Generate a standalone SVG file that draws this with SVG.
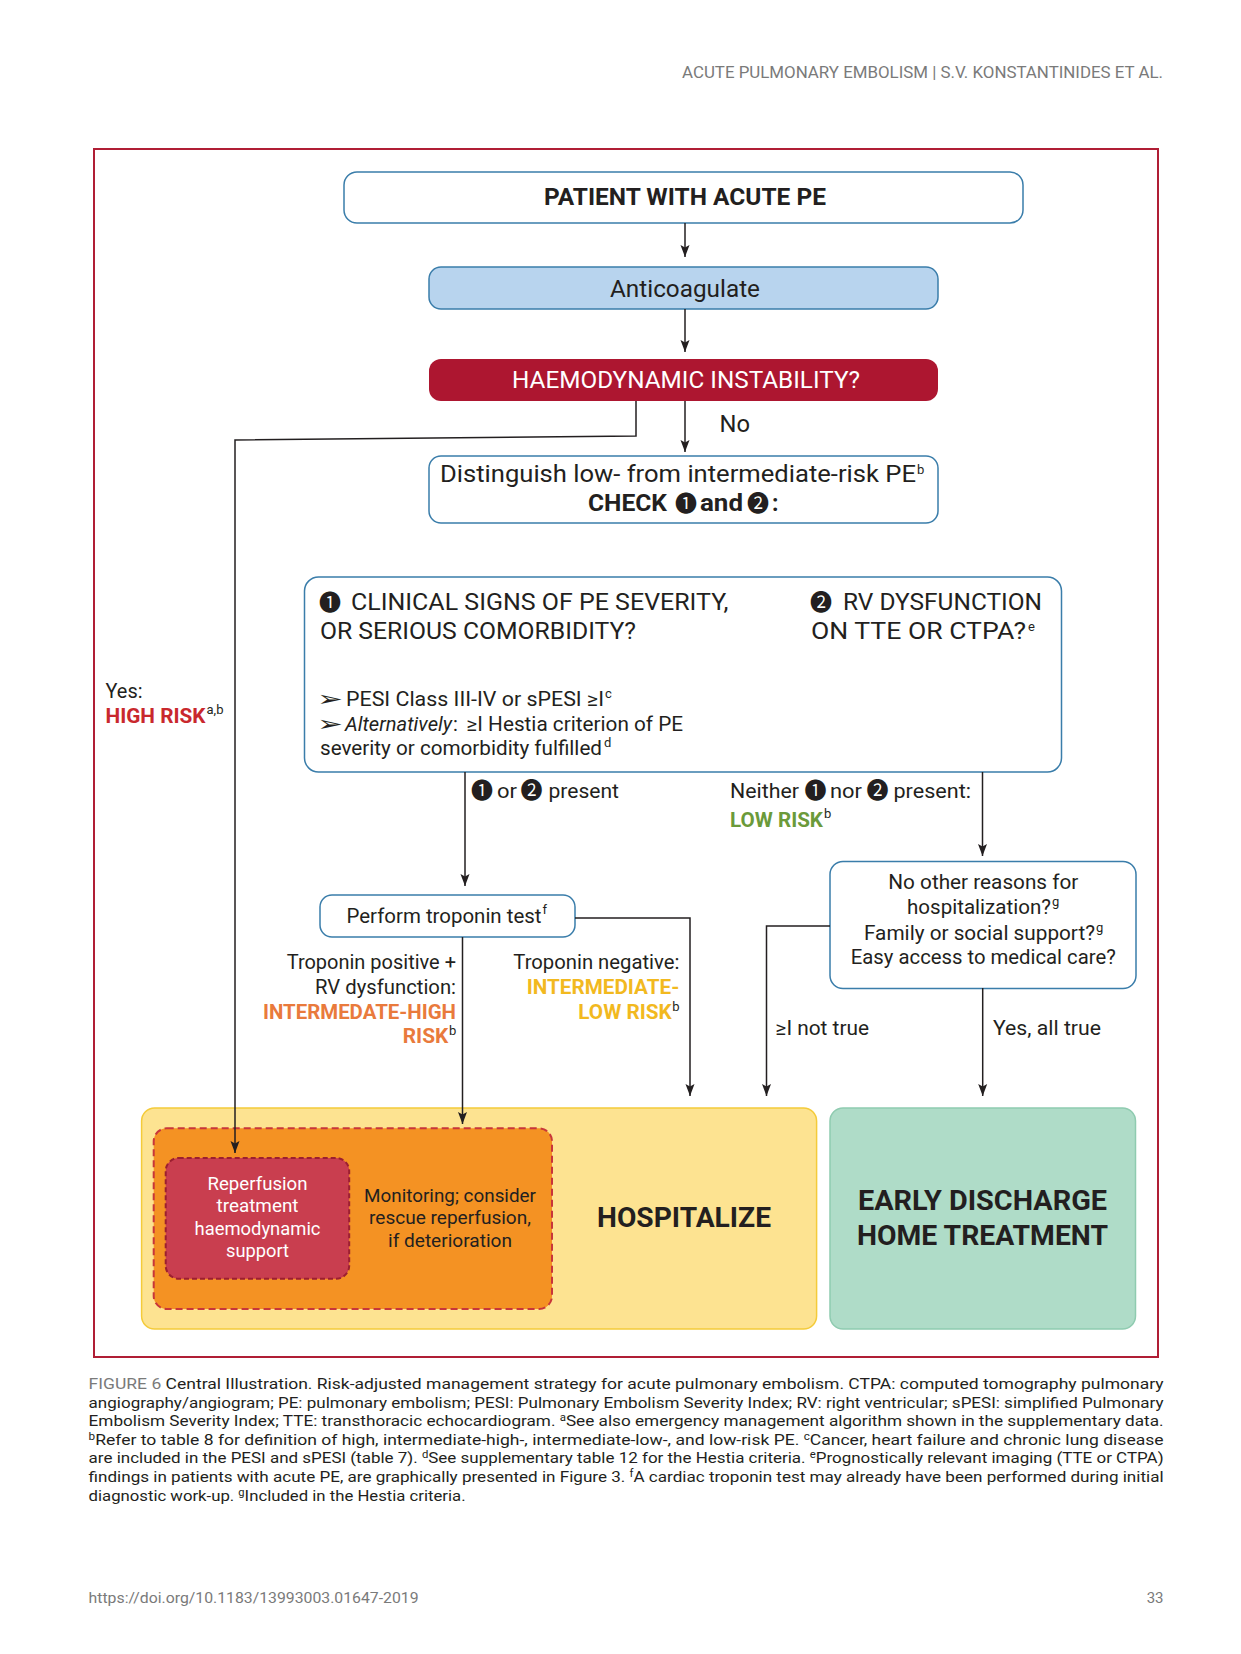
<svg xmlns="http://www.w3.org/2000/svg" width="1241" height="1654" viewBox="0 0 1241 1654">
<defs>
<style>
text{font-family:Roboto,"Liberation Sans",sans-serif;fill:#231F20}
.t20{font-size:20px}
.t23{font-size:23px}
.b{font-weight:bold}
.c{text-anchor:middle}
.e{text-anchor:end}
.dg{font-family:"Noto Sans CJK JP","DejaVu Sans",sans-serif;font-weight:normal;font-size:22px}
.ar{font-family:"DejaVu Sans",sans-serif;font-size:21px}
.sup{font-size:13px}
.cap{font-size:15px}
.capsup{font-size:10px}
.box{fill:#fff;stroke:#3A7DAA;stroke-width:1.5}
.con{fill:none;stroke:#231F20;stroke-width:1.5}
.gray{fill:#7A7A7A}
</style>
<marker id="ah" markerUnits="userSpaceOnUse" markerWidth="13" markerHeight="10" refX="12" refY="5" orient="auto" viewBox="0 0 13 10">
<path d="M0,0.5 L12,5 L0,9.5 L2.5,5 z" fill="#231F20"/>
</marker>
</defs>
<rect width="1241" height="1654" fill="#fff"/>

<text id="header" x="682" y="78" class="gray" font-size="16" textLength="481" lengthAdjust="spacingAndGlyphs">ACUTE PULMONARY EMBOLISM  |  S.V. KONSTANTINIDES ET AL.</text>

<rect id="frame" x="94" y="149" width="1064" height="1208" fill="none" stroke="#B01E35" stroke-width="2"/>

<g id="patient">
<rect class="box" x="344" y="172" width="679" height="51" rx="13"/>
<text class="t23 b c" x="685" y="205" textLength="282" lengthAdjust="spacingAndGlyphs">PATIENT WITH ACUTE PE</text>
</g>

<g id="anticoagulate">
<rect x="429" y="267" width="509" height="42" rx="12" fill="#B8D4EE" stroke="#3A7DAA" stroke-width="1.5"/>
<text class="t23 c" x="685" y="296.5" textLength="150" lengthAdjust="spacingAndGlyphs">Anticoagulate</text>
</g>

<g id="instability">
<rect x="429" y="359" width="509" height="42" rx="12" fill="#AD1630"/>
<text class="t23 c" x="686" y="388" style="fill:#fff" textLength="348" lengthAdjust="spacingAndGlyphs">HAEMODYNAMIC INSTABILITY?</text>
</g>

<text id="lbl-no" class="t23" x="719.5" y="432" textLength="30.5" lengthAdjust="spacingAndGlyphs">No</text>

<g id="distinguish">
<rect class="box" x="429" y="456" width="509" height="67" rx="12"/>
<text class="t23" x="440" y="481.5" textLength="476" lengthAdjust="spacingAndGlyphs">Distinguish low- from intermediate-risk PE</text>
<text class="sup" x="917" y="474">b</text>
<text class="t23 b" y="511"><tspan x="588" textLength="79" lengthAdjust="spacingAndGlyphs">CHECK</tspan><tspan class="dg" x="675">❶</tspan><tspan x="700" textLength="43" lengthAdjust="spacingAndGlyphs">and</tspan><tspan class="dg" x="747">❷</tspan><tspan x="772">:</tspan></text>
</g>

<g id="criteria">
<rect class="box" x="304.5" y="577" width="757" height="195" rx="14"/>
<text class="t23" y="610"><tspan class="dg" x="319">❶</tspan><tspan x="351" textLength="377.5" lengthAdjust="spacingAndGlyphs">CLINICAL SIGNS OF PE SEVERITY,</tspan></text>
<text class="t23" x="320" y="639" textLength="316" lengthAdjust="spacingAndGlyphs">OR SERIOUS COMORBIDITY?</text>
<text class="t23" y="610"><tspan class="dg" x="810">❷</tspan><tspan x="843" textLength="199" lengthAdjust="spacingAndGlyphs">RV DYSFUNCTION</tspan></text>
<text class="t23" x="811" y="639" textLength="215" lengthAdjust="spacingAndGlyphs">ON TTE OR CTPA?</text>
<text class="sup" x="1028" y="631">e</text>
<text class="t20" y="706"><tspan class="ar" x="317" textLength="26" lengthAdjust="spacingAndGlyphs">➢</tspan><tspan x="346" textLength="258" lengthAdjust="spacingAndGlyphs">PESI Class III-IV or sPESI ≥I</tspan></text>
<text class="sup" x="605" y="698">c</text>
<text class="t20" y="730.5"><tspan class="ar" x="317" textLength="26" lengthAdjust="spacingAndGlyphs">➢</tspan><tspan x="345" font-style="italic" textLength="107" lengthAdjust="spacingAndGlyphs">Alternatively</tspan><tspan x="453">:</tspan><tspan x="466.5" textLength="216.5" lengthAdjust="spacingAndGlyphs">≥I Hestia criterion of PE</tspan></text>
<text class="t20" x="320" y="755" textLength="282" lengthAdjust="spacingAndGlyphs">severity or comorbidity fulfilled</text>
<text class="sup" x="604" y="747">d</text>
</g>

<g id="lbl-high-risk">
<text class="t20" x="105.5" y="697.5" textLength="37" lengthAdjust="spacingAndGlyphs">Yes:</text>
<text class="t20 b" x="105.5" y="722.5" style="fill:#C9282D" textLength="100" lengthAdjust="spacingAndGlyphs">HIGH RISK</text>
<text class="sup" x="206.5" y="714">a,b</text>
</g>

<g id="lbl-present">
<text class="t20" y="798"><tspan class="dg" x="471">❶</tspan><tspan x="497" textLength="20" lengthAdjust="spacingAndGlyphs">or</tspan><tspan class="dg" x="520.5">❷</tspan><tspan x="548.5" textLength="70.5" lengthAdjust="spacingAndGlyphs">present</tspan></text>
</g>

<g id="lbl-neither">
<text class="t20" y="798"><tspan x="730" textLength="69" lengthAdjust="spacingAndGlyphs">Neither</tspan><tspan class="dg" x="804.5">❶</tspan><tspan x="830" textLength="32" lengthAdjust="spacingAndGlyphs">nor</tspan><tspan class="dg" x="866.5">❷</tspan><tspan x="893.5" textLength="77.5" lengthAdjust="spacingAndGlyphs">present:</tspan></text>
<text class="t20 b" x="730" y="826.5" style="fill:#6B9A3A" textLength="93" lengthAdjust="spacingAndGlyphs">LOW RISK</text>
<text class="sup" x="824" y="818">b</text>
</g>

<g id="troponin">
<rect class="box" x="320" y="895" width="255" height="42" rx="12"/>
<text class="t20" x="346.5" y="923" textLength="195" lengthAdjust="spacingAndGlyphs">Perform troponin test</text>
<text class="sup" x="542.5" y="914">f</text>
</g>

<g id="lbl-int-high">
<text class="t20 e" x="456" y="969.3" textLength="169.3" lengthAdjust="spacingAndGlyphs">Troponin positive +</text>
<text class="t20 e" x="456" y="994.3" textLength="141" lengthAdjust="spacingAndGlyphs">RV dysfunction:</text>
<text class="t20 b e" x="456" y="1019" style="fill:#E97A3C" textLength="193" lengthAdjust="spacingAndGlyphs">INTERMEDATE-HIGH</text>
<text class="t20 b e" x="448.3" y="1043.3" style="fill:#E97A3C" textLength="45.6" lengthAdjust="spacingAndGlyphs">RISK</text>
<text class="sup" x="449" y="1035">b</text>
</g>

<g id="lbl-int-low">
<text class="t20 e" x="679.3" y="969.3" textLength="166" lengthAdjust="spacingAndGlyphs">Troponin negative:</text>
<text class="t20 b e" x="679.3" y="994" style="fill:#F2B91F" textLength="152.6" lengthAdjust="spacingAndGlyphs">INTERMEDIATE-</text>
<text class="t20 b e" x="671.7" y="1019" style="fill:#F2B91F" textLength="93.4" lengthAdjust="spacingAndGlyphs">LOW RISK</text>
<text class="sup" x="672.3" y="1010.5">b</text>
</g>

<g id="discharge-check">
<rect class="box" x="830" y="861.5" width="306" height="127" rx="13"/>
<text class="t20 c" x="983.3" y="889.3" textLength="190" lengthAdjust="spacingAndGlyphs">No other reasons for</text>
<text class="t20" x="907" y="914.3" textLength="144" lengthAdjust="spacingAndGlyphs">hospitalization?</text>
<text class="sup" x="1052" y="906">g</text>
<text class="t20" x="864" y="940" textLength="231" lengthAdjust="spacingAndGlyphs">Family or social support?</text>
<text class="sup" x="1096" y="931.5">g</text>
<text class="t20 c" x="983.3" y="964" textLength="265" lengthAdjust="spacingAndGlyphs">Easy access to medical care?</text>
</g>

<text id="lbl-not-true" class="t20" x="775.5" y="1035" textLength="93.5" lengthAdjust="spacingAndGlyphs">≥I not true</text>
<text id="lbl-all-true" class="t20" x="993" y="1035" textLength="108" lengthAdjust="spacingAndGlyphs">Yes, all true</text>

<g id="hospitalize">
<rect x="141.6" y="1108" width="675" height="221" rx="13" fill="#FDE391" stroke="#F4CB3A" stroke-width="1.5"/>
<text class="b c" font-size="27" x="684" y="1227.3" textLength="174" lengthAdjust="spacingAndGlyphs">HOSPITALIZE</text>
</g>

<g id="monitoring">
<rect x="153.7" y="1128.3" width="398.3" height="180.7" rx="13" fill="#F49223" stroke="#C8363A" stroke-width="2" stroke-dasharray="7,4"/>
<text class="c" font-size="19" x="450" y="1201.7" textLength="172" lengthAdjust="spacingAndGlyphs">Monitoring; consider</text>
<text class="c" font-size="19" x="450" y="1224.3" textLength="162" lengthAdjust="spacingAndGlyphs">rescue reperfusion,</text>
<text class="c" font-size="19" x="450" y="1246.7" textLength="124" lengthAdjust="spacingAndGlyphs">if deterioration</text>
</g>

<g id="reperfusion">
<rect x="165.7" y="1158" width="183.5" height="120.7" rx="13" fill="#C93E4F" stroke="#9C1F30" stroke-width="2" stroke-dasharray="5,3"/>
<text class="c" font-size="19" x="257.5" y="1190" style="fill:#fff" textLength="100" lengthAdjust="spacingAndGlyphs">Reperfusion</text>
<text class="c" font-size="19" x="257.5" y="1211.7" style="fill:#fff" textLength="82" lengthAdjust="spacingAndGlyphs">treatment</text>
<text class="c" font-size="19" x="257.5" y="1235" style="fill:#fff" textLength="126" lengthAdjust="spacingAndGlyphs">haemodynamic</text>
<text class="c" font-size="19" x="257.5" y="1256.7" style="fill:#fff" textLength="63" lengthAdjust="spacingAndGlyphs">support</text>
</g>

<g id="early-discharge">
<rect x="830" y="1108" width="305.5" height="221" rx="13" fill="#AFDCC8" stroke="#8FCBB0" stroke-width="1.5"/>
<text class="b c" font-size="28" x="982.5" y="1210" textLength="249" lengthAdjust="spacingAndGlyphs">EARLY DISCHARGE</text>
<text class="b c" font-size="28" x="982.5" y="1245" textLength="251" lengthAdjust="spacingAndGlyphs">HOME TREATMENT</text>
</g>

<g id="connectors">
<path class="con" d="M685,223 V257" marker-end="url(#ah)"/>
<path class="con" d="M685,309 V352" marker-end="url(#ah)"/>
<path class="con" d="M685,401 V452" marker-end="url(#ah)"/>
<path class="con" d="M636,401 V436 L235,440 V1153" marker-end="url(#ah)"/>
<path class="con" d="M465,772 V886" marker-end="url(#ah)"/>
<path class="con" d="M575,918 H690 V1096" marker-end="url(#ah)"/>
<path class="con" d="M462.5,937 V1124" marker-end="url(#ah)"/>
<path class="con" d="M982.5,772 V856" marker-end="url(#ah)"/>
<path class="con" d="M830,926 H766.5 V1096" marker-end="url(#ah)"/>
<path class="con" d="M982.7,988 V1096" marker-end="url(#ah)"/>
</g>

<g id="caption">
<text class="cap" x="88.6" y="1389" textLength="1075" lengthAdjust="spacingAndGlyphs"><tspan class="gray">FIGURE 6</tspan> Central Illustration. Risk-adjusted management strategy for acute pulmonary embolism. CTPA: computed tomography pulmonary</text>
<text class="cap" x="88.6" y="1407.5" textLength="1075" lengthAdjust="spacingAndGlyphs">angiography/angiogram; PE: pulmonary embolism; PESI: Pulmonary Embolism Severity Index; RV: right ventricular; sPESI: simplified Pulmonary</text>
<text class="cap" x="88.6" y="1426" textLength="1075" lengthAdjust="spacingAndGlyphs">Embolism Severity Index; TTE: transthoracic echocardiogram. <tspan class="capsup" dy="-5">a</tspan><tspan dy="5">See also emergency management algorithm shown in the supplementary data.</tspan></text>
<text class="cap" x="88.6" y="1444.5" textLength="1075" lengthAdjust="spacingAndGlyphs"><tspan class="capsup" dy="-5">b</tspan><tspan dy="5">Refer to table 8 for definition of high, intermediate-high-, intermediate-low-, and low-risk PE. </tspan><tspan class="capsup" dy="-5">c</tspan><tspan dy="5">Cancer, heart failure and chronic lung disease</tspan></text>
<text class="cap" x="88.6" y="1463" textLength="1075" lengthAdjust="spacingAndGlyphs">are included in the PESI and sPESI (table 7). <tspan class="capsup" dy="-5">d</tspan><tspan dy="5">See supplementary table 12 for the Hestia criteria. </tspan><tspan class="capsup" dy="-5">e</tspan><tspan dy="5">Prognostically relevant imaging (TTE or CTPA)</tspan></text>
<text class="cap" x="88.6" y="1482" textLength="1075" lengthAdjust="spacingAndGlyphs">findings in patients with acute PE, are graphically presented in Figure 3. <tspan class="capsup" dy="-5">f</tspan><tspan dy="5">A cardiac troponin test may already have been performed during initial</tspan></text>
<text class="cap" x="88.6" y="1501" textLength="377" lengthAdjust="spacingAndGlyphs">diagnostic work-up. <tspan class="capsup" dy="-5">g</tspan><tspan dy="5">Included in the Hestia criteria.</tspan></text>
</g>

<text id="footer-doi" class="gray" font-size="15" x="88.6" y="1603" textLength="330" lengthAdjust="spacingAndGlyphs">https://doi.org/10.1183/13993003.01647-2019</text>
<text id="footer-page" class="gray e" font-size="15" x="1163.5" y="1603">33</text>
</svg>
